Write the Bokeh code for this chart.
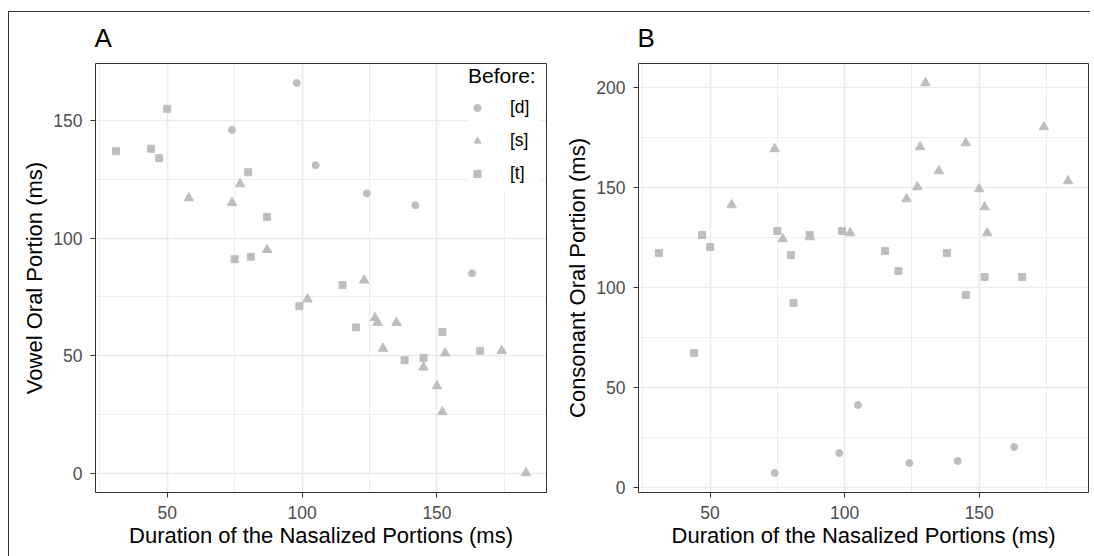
from bokeh.plotting import figure
from bokeh.models import (Legend, LegendItem, LinearAxis, FixedTicker, Range1d)
from bokeh.layouts import row
from bokeh.embed import file_html
from bokeh.resources import INLINE

# ---- data (durations in ms) ----
d_x = [74, 98, 105, 124, 142, 163]
d_vowel = [146, 166, 131, 119, 114, 85]
d_cons = [7, 17, 41, 12, 13, 20]

s_x = [58, 74, 77, 87, 102, 123, 127, 128, 130, 135, 145, 150, 152, 153, 174, 183]
s_vowel = [117, 115, 123, 95, 74, 82, 66, 64, 53, 64, 45, 37, 26, 51, 52, 0]
s_cons = [141, 169, 124, 125, 127, 144, 150, 170, 202, 158, 172, 149, 140, 127, 180, 153]

t_x = [31, 44, 47, 50, 75, 80, 81, 87, 99, 115, 120, 138, 145, 152, 166]
t_vowel = [137, 138, 134, 155, 91, 128, 92, 109, 71, 80, 62, 48, 49, 60, 52]
t_cons = [117, 67, 126, 120, 128, 116, 92, 126, 128, 118, 108, 117, 96, 105, 105]

labels = ["[d]", "[s]", "[t]"]
x_ticks = [50, 100, 150]
x_minor = [25, 75, 125, 175]
a_ticks = [0, 50, 100, 150]
a_minor = [25, 75, 125]
b_ticks = [0, 50, 100, 150, 200]
b_minor = [25, 75, 125, 175]

FONT = "Liberation Sans"
PT_COLOR = "#BEBEBE"
DARK = "#333333"
GRID = "#EBEBEB"
FRAME_H = 429


def expand(vals):
    lo, hi = min(vals), max(vals)
    r = hi - lo
    return Range1d(lo - 0.05 * r, hi + 0.05 * r)


all_x = d_x + s_x + t_x


def make_panel(title, ylab, yd, ys, yt, yticks, yminor, min_left, min_right, legend):
    p = figure(frame_width=451 if legend else 450, frame_height=FRAME_H,
               x_range=expand(all_x), y_range=expand(yd + ys + yt),
               output_backend="svg", toolbar_location=None,
               min_border_left=min_left, min_border_right=min_right,
               min_border_top=51, min_border_bottom=64,
               background_fill_color="white", border_fill_color="white")
    p.outline_line_color = None
    r_d = p.scatter(d_x, yd, marker="circle", size=7, color=PT_COLOR)
    r_s = p.scatter(s_x, ys, marker="triangle", size=9.5, color=PT_COLOR)
    r_t = p.scatter(t_x, yt, marker="square", size=7, color=PT_COLOR)

    p.xaxis.ticker = FixedTicker(ticks=x_ticks, minor_ticks=x_minor)
    p.yaxis.ticker = FixedTicker(ticks=yticks, minor_ticks=yminor)
    for ax in (p.xaxis[0], p.yaxis[0]):
        ax.axis_line_color = DARK
        ax.major_tick_line_color = DARK
        ax.major_tick_out = 5
        ax.major_tick_in = 0
        ax.minor_tick_line_color = None
        ax.major_label_text_font = FONT
        ax.major_label_text_font_size = "17.5px"
        ax.major_label_text_color = "#4D4D4D"
        ax.axis_label_text_font = FONT
        ax.axis_label_text_font_size = "22px"
        ax.axis_label_text_font_style = "normal"
        ax.axis_label_text_color = "black"
    p.xaxis.axis_label = "Duration of the Nasalized Portions (ms)"
    p.yaxis.axis_label = ylab
    p.xaxis.major_label_standoff = 8
    p.yaxis.major_label_standoff = 8
    p.xaxis.axis_label_standoff = 1
    p.yaxis.axis_label_standoff = 3

    for side in ("above", "right"):
        ax = LinearAxis(ticker=FixedTicker(ticks=[]), axis_line_color=DARK,
                        major_tick_out=0, major_tick_in=0, minor_tick_out=0,
                        minor_tick_in=0, major_label_text_font_size="0px",
                        major_label_standoff=0)
        p.add_layout(ax, side)

    p.xgrid.grid_line_color = GRID
    p.ygrid.grid_line_color = GRID
    p.xgrid.grid_line_width = 1.6
    p.ygrid.grid_line_width = 1.6
    p.xgrid.minor_grid_line_color = GRID
    p.ygrid.minor_grid_line_color = GRID
    p.xgrid.minor_grid_line_width = 0.9
    p.ygrid.minor_grid_line_width = 0.9

    p.title.text = title
    p.title.text_font = FONT
    p.title.text_font_size = "26px"
    p.title.text_font_style = "normal"
    p.title.text_color = "black"
    p.title.align = "left"
    p.title.vertical_align = "top"
    p.title.offset = -1
    p.title.standoff = 18

    if legend:
        lg = Legend(items=[LegendItem(label=labels[0], renderers=[r_d]),
                           LegendItem(label=labels[1], renderers=[r_s]),
                           LegendItem(label=labels[2], renderers=[r_t])],
                    location=(373, 302), title="Before:",
                    title_text_font=FONT, title_text_font_size="21px",
                    title_text_font_style="normal", title_standoff=3,
                    title_text_color="black",
                    label_text_font=FONT, label_text_font_size="17.5px",
                    label_text_color="black",
                    padding=8, spacing=0, margin=0,
                    glyph_width=18, glyph_height=33, label_height=33,
                    label_width=30, label_standoff=24, border_line_color=None,
                    background_fill_color="white", background_fill_alpha=1.0)
        p.add_layout(lg, "center")
    return p


pa = make_panel("A", "Vowel Oral Portion (ms)", d_vowel, s_vowel, t_vowel,
                a_ticks, a_minor, 86, 10, True)
pb = make_panel("B", "Consonant Oral Portion (ms)", d_cons, s_cons, t_cons,
                b_ticks, b_minor, 82, 2, False)

layout = row(pa, pb, margin=(11, 0, 0, 8),
             styles={"border-top": "1px solid #333333",
                     "border-left": "1px solid #333333"})

open("out.html", "w").write(file_html(layout, INLINE))
